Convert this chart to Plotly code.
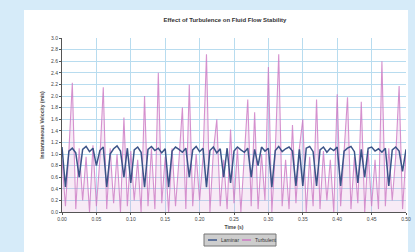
import plotly.graph_objects as go

# sample grid (s)
time_s = [round(i * 0.005, 3) for i in range(101)]

turbulent = [0.9, 0.1, 1.05, 2.23, 0.05, 1.1, 0.2, 0.95, 0.0, 1.15,
             0.1, 0.9, 2.15, 0.05, 1.1, 0.15, 1.0, 0.0, 1.63, 0.1,
             1.05, 0.2, 0.9, 0.0, 2.0, 0.1, 1.1, 0.05, 2.4, 0.15,
             0.95, 0.0, 1.1, 0.1, 0.9, 1.8, 0.05, 2.2, 0.1, 1.0,
             0.2, 0.95, 2.72, 0.0, 1.05, 1.6, 0.1, 0.9, 0.05, 1.42,
             0.15, 1.1, 0.0, 0.95, 1.94, 0.1, 1.72, 0.05, 1.0, 0.2,
             2.5, 0.0, 1.05, 2.72, 0.1, 0.9, 0.05, 1.5, 0.15, 1.1,
             1.6, 0.0, 0.95, 0.1, 1.94, 0.05, 1.05, 0.2, 0.9, 0.0,
             2.03, 0.1, 1.1, 1.98, 0.05, 0.95, 0.15, 1.9, 0.0, 1.05,
             0.1, 0.9, 0.05, 2.6, 0.1, 1.1, 0.2, 0.95, 2.17, 0.05, 1.0]

laminar = [1.12, 0.43, 1.05, 1.1, 1.02, 0.6, 1.08, 1.13, 1.04, 1.1,
           0.8, 1.06, 1.12, 0.43, 1.0, 1.09, 1.14, 1.05, 0.6, 1.1,
           0.5, 1.07, 1.12, 1.03, 0.43, 1.08, 1.13, 1.06, 1.1, 1.02,
           1.09, 0.43, 1.05, 1.12, 1.08, 1.03, 1.1, 0.6, 1.07, 1.13,
           1.04, 1.1, 0.43, 1.06, 1.12, 1.02, 1.09, 0.6, 1.1, 0.5,
           1.05, 1.12, 1.07, 1.03, 1.1, 0.6, 1.08, 0.8, 1.12, 1.05,
           1.1, 0.43, 1.06, 1.13, 1.04, 1.09, 1.12, 1.05, 0.45, 1.08,
           0.45, 1.1, 1.13, 1.04, 0.45, 1.07, 1.12, 1.03, 1.1, 1.06,
           1.12, 0.45, 1.05, 1.1, 1.13, 1.04, 0.5, 1.08, 0.6, 1.1,
           1.12, 1.05, 1.09, 1.03, 1.1, 0.45, 1.07, 1.12, 1.05, 0.7, 1.08]

series_names = ["Laminar", "Turbulent"]
series_colors = ["#3b5488", "#cc78c3"]

y_ticks = [round(i * 0.2, 1) for i in range(16)]
x_ticks = [round(i * 0.05, 2) for i in range(11)]

fig = go.Figure()
fig.add_trace(go.Scatter(x=time_s, y=turbulent, mode="lines", name=series_names[1],
                         line=dict(color="rgba(204,120,195,0.8)", width=1.1),
                         fill="tozeroy", fillcolor="rgba(220,165,212,0.22)"))
fig.add_trace(go.Scatter(x=time_s, y=laminar, mode="lines", name=series_names[0],
                         line=dict(color=series_colors[0], width=1.5)))

# plot-area geometry in px (for converting the hand-drawn legend box)
L, R, T, B = 62, 9, 38, 40
W, H = 415, 252
pw, ph = W - L - R, H - T - B
def px_x(p): return (p - L) / pw
def px_y(p): return (H - B - p) / ph

shapes = [dict(type="rect", xref="paper", yref="paper", x0=px_x(24), x1=px_x(408),
               y0=px_y(252), y1=px_y(10), fillcolor="white", line=dict(width=0),
               layer="below"),
          dict(type="rect", xref="paper", yref="paper", x0=px_x(204), x1=px_x(276),
               y0=px_y(246), y1=px_y(234), fillcolor="#cdcdcd",
               line=dict(color="#777", width=1))]
annotations = []
legend_x = [208, 242]
for i, nm in enumerate(series_names):
    shapes.append(dict(type="line", xref="paper", yref="paper",
                       x0=px_x(legend_x[i]), x1=px_x(legend_x[i] + 9),
                       y0=px_y(240), y1=px_y(240),
                       line=dict(color=series_colors[i], width=1.5)))
    annotations.append(dict(text=nm, xref="paper", yref="paper",
                            x=px_x(legend_x[i] + 11), y=px_y(240),
                            xanchor="left", yanchor="middle", showarrow=False,
                            font=dict(size=5, color="#333")))

fig.update_layout(
    width=W, height=H,
    paper_bgcolor="#d6ebf9",
    plot_bgcolor="white",
    margin=dict(l=L, r=R, t=T, b=B),
    title=dict(text="<b>Effect of Turbulence on Fluid Flow Stability</b>",
               x=px_x(225), xanchor="center", y=1 - 20 / H, yanchor="middle",
               xref="paper",
               font=dict(family="Liberation Sans", size=6, color="#333")),
    font=dict(family="Liberation Sans", size=5, color="#444"),
    showlegend=False,
    hovermode=False,
    shapes=shapes,
    annotations=annotations,
)
fig.update_xaxes(range=[0, 0.5], tickvals=x_ticks, tickformat=".2f",
                 showgrid=True, gridcolor="#b8dcef", gridwidth=1,
                 showline=True, linecolor="#555", linewidth=1,
                 ticks="outside", ticklen=2, tickcolor="#555", automargin=False,
                 title=dict(text="<b>Time (s)</b>", font=dict(size=5), standoff=4),
                 zeroline=False)
fig.update_yaxes(range=[0, 3.0], tickvals=y_ticks, tickformat=".1f",
                 showgrid=True, gridcolor="#b8dcef", gridwidth=1,
                 showline=True, linecolor="#555", linewidth=1,
                 ticks="outside", ticklen=2, tickcolor="#555", automargin=False,
                 title=dict(text="<b>Instantaneous Velocity (m/s)</b>", font=dict(size=5), standoff=6),
                 zeroline=False)

fig.write_html("out.html", config={"displayModeBar": False},
               post_script="document.body.style.margin='0';document.body.style.overflow='hidden';")
